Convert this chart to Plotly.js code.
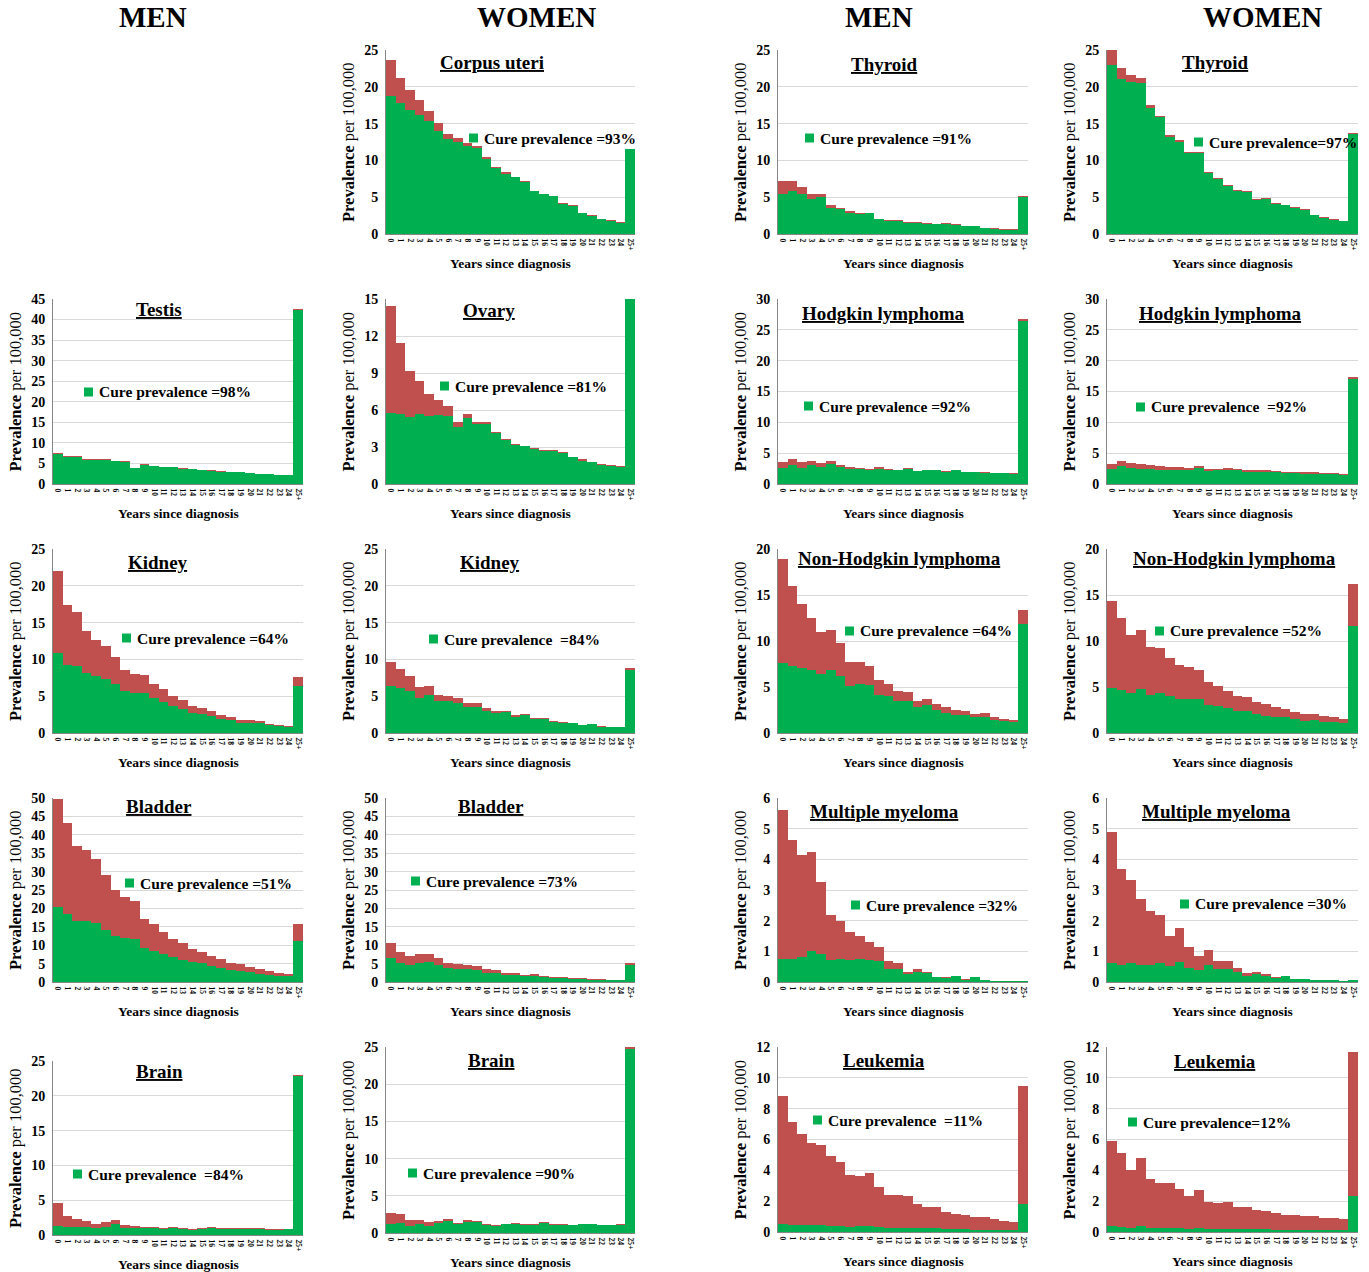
<!DOCTYPE html>
<html>
<head>
<meta charset="utf-8">
<script src="https://cdn.plot.ly/plotly-3.0.1.min.js"></script>
<style>html,body{margin:0;padding:0;background:#fff;}#chart{width:1369px;height:1272px;}</style>
</head>
<body>
<div id="chart"></div>
<script>
// ---------- Data (prevalence per 100,000) ----------
const years = ['0','1','2','3','4','5','6','7','8','9','10','11','12','13','14','15','16','17','18','19','20','21','22','23','24','25+'];
const columnHeaders = ['MEN','WOMEN','MEN','WOMEN'];

const corpusTotal = [23.7,21.2,19.6,18.2,16.7,15.1,13.6,13.1,12.3,12.0,10.4,9.1,8.4,7.8,7.2,5.9,5.5,5.2,4.2,3.9,2.9,2.6,2.1,1.9,1.6,11.6];
const corpusCure  = [18.8,17.8,16.9,16.2,15.3,14.0,12.9,12.5,11.9,11.7,10.2,9.0,8.2,7.7,7.1,5.8,5.4,5.1,4.1,3.8,2.9,2.5,2.0,1.8,1.5,11.5];

const thyroidMenTotal = [7.2,7.2,6.4,5.5,5.4,3.9,3.5,3.1,2.8,2.9,2.1,1.9,1.9,1.6,1.6,1.5,1.4,1.45,1.3,1.1,1.1,0.86,0.77,0.68,0.63,5.1];
const thyroidMenCure  = [5.5,5.8,5.4,4.8,5.0,3.6,3.35,2.9,2.7,2.8,2.0,1.8,1.8,1.55,1.55,1.4,1.3,1.35,1.2,1.05,1.05,0.8,0.7,0.6,0.55,5.0];

const thyroidWomenTotal = [25.0,22.5,21.6,21.2,17.5,16.1,13.4,12.8,11.1,11.1,8.4,7.65,6.65,6.0,5.85,4.7,4.9,4.15,4.0,3.7,3.35,2.65,2.3,2.0,1.8,13.7];
const thyroidWomenCure  = [22.95,21.05,20.6,20.5,17.15,15.85,13.2,12.55,10.95,10.95,8.25,7.5,6.55,5.9,5.75,4.6,4.8,4.1,3.95,3.6,3.2,2.6,2.2,1.95,1.7,13.6];

const testisTotal = [7.45,6.7,6.8,6.0,6.1,6.0,5.7,5.5,4.0,4.75,4.4,4.25,4.2,3.8,3.7,3.5,3.35,3.1,3.0,2.95,2.7,2.55,2.45,2.3,2.2,42.6];
const testisCure  = [7.3,6.5,6.65,5.9,5.95,5.9,5.6,5.4,3.9,4.6,4.3,4.15,4.05,3.7,3.6,3.4,3.25,3.0,2.9,2.85,2.6,2.45,2.35,2.2,2.1,42.3];

const ovaryTotal = [14.4,11.4,9.2,8.35,7.3,6.8,6.35,5.0,5.7,5.05,5.05,4.25,3.65,3.25,3.1,2.9,2.75,2.75,2.6,2.2,2.0,1.8,1.6,1.55,1.45,15.4];
const ovaryCure  = [5.75,5.65,5.4,5.7,5.55,5.6,5.55,4.6,5.35,4.85,4.9,4.15,3.6,3.2,3.05,2.85,2.7,2.7,2.5,2.15,1.9,1.75,1.55,1.5,1.4,15.3];

const hodgkinMenTotal = [3.55,4.1,3.55,3.75,3.4,3.75,3.15,2.8,2.6,2.45,2.8,2.45,2.35,2.55,2.1,2.35,2.3,2.05,2.25,2.0,2.0,1.9,1.85,1.85,1.75,26.75];
const hodgkinMenCure  = [2.55,3.1,2.6,3.05,2.8,3.25,2.8,2.45,2.4,2.3,2.5,2.35,2.3,2.5,2.05,2.3,2.2,2.0,2.2,1.95,1.95,1.85,1.8,1.8,1.7,26.5];

const hodgkinWomenTotal = [3.3,3.8,3.4,3.2,3.1,2.9,2.8,2.8,2.6,3.0,2.4,2.5,2.6,2.5,2.2,2.2,2.2,2.1,2.0,2.0,1.9,1.9,1.8,1.8,1.6,17.4];
const hodgkinWomenCure  = [2.5,2.9,2.6,2.5,2.4,2.3,2.3,2.3,2.2,2.6,2.1,2.2,2.3,2.2,1.9,2.0,2.0,1.9,1.8,1.8,1.7,1.7,1.6,1.6,1.4,17.1];

const kidneyMenTotal = [22.05,17.4,16.4,13.9,12.7,11.8,10.3,8.6,8.0,7.9,6.7,5.95,5.0,4.5,3.65,3.4,3.05,2.5,2.2,1.8,1.7,1.6,1.2,1.05,0.95,7.6];
const kidneyMenCure  = [10.85,9.25,9.1,8.2,7.7,7.35,6.7,5.65,5.4,5.4,4.7,4.25,3.65,3.25,2.75,2.55,2.25,1.85,1.7,1.35,1.35,1.35,1.05,0.9,0.8,6.35];

const kidneyWomenTotal = [9.7,8.7,7.7,6.2,6.45,5.15,5.05,4.7,4.1,4.05,3.4,3.0,3.05,2.45,2.6,2.05,2.05,1.65,1.45,1.4,1.15,1.25,0.9,0.85,0.85,8.9];
const kidneyWomenCure  = [6.4,6.05,5.65,4.75,5.2,4.3,4.3,4.05,3.5,3.55,3.0,2.75,2.8,2.2,2.45,1.95,1.9,1.55,1.35,1.3,1.1,1.2,0.8,0.75,0.75,8.6];

const nhlMenTotal = [18.95,16.0,14.0,12.55,11.0,11.25,9.8,7.75,7.75,7.3,5.75,5.3,4.6,4.45,3.5,3.7,3.1,2.8,2.45,2.4,2.1,2.15,1.7,1.55,1.4,13.35];
const nhlMenCure  = [7.6,7.3,7.1,6.85,6.4,6.8,6.25,5.1,5.35,5.2,4.15,4.0,3.45,3.45,2.8,3.0,2.45,2.2,1.95,2.0,1.75,1.75,1.45,1.3,1.25,11.9];

const nhlWomenTotal = [14.4,12.5,10.6,11.15,9.3,9.2,8.2,7.35,7.15,6.9,5.55,5.15,4.6,4.0,3.9,3.35,3.1,2.8,2.65,2.3,2.05,2.1,1.85,1.7,1.5,16.25];
const nhlWomenCure  = [4.9,4.65,4.35,4.8,4.1,4.3,4.0,3.7,3.7,3.75,3.05,2.95,2.7,2.4,2.4,2.05,1.9,1.75,1.75,1.5,1.3,1.4,1.2,1.15,1.1,11.6];

const bladderMenTotal = [49.8,43.1,36.9,35.9,33.4,29.0,25.0,23.2,22.1,17.0,15.7,13.6,11.75,10.5,9.1,8.2,7.2,6.3,5.2,4.8,4.0,3.55,3.0,2.55,2.3,15.85];
const bladderMenCure  = [20.4,18.5,16.6,16.7,16.1,14.2,12.5,11.9,11.65,9.2,8.55,7.65,6.85,6.0,5.55,5.1,4.35,3.9,3.2,3.0,2.65,2.3,2.0,1.75,1.55,11.1];

const bladderWomenTotal = [10.65,8.1,7.2,7.55,7.65,6.45,5.3,4.9,4.75,4.35,3.55,3.2,2.45,2.35,1.9,2.2,1.55,1.35,1.25,1.0,1.0,0.75,0.75,0.55,0.55,5.2];
const bladderWomenCure  = [6.45,5.1,4.65,5.1,5.35,4.55,3.75,3.55,3.55,3.35,2.55,2.45,2.0,1.8,1.55,1.75,1.3,1.2,1.0,0.8,0.85,0.65,0.65,0.45,0.45,4.55];

const myelomaMenTotal = [5.62,4.62,4.14,4.25,3.27,2.17,1.99,1.63,1.51,1.3,1.14,0.68,0.62,0.33,0.42,0.34,0.16,0.15,0.21,0.11,0.17,0.08,0.04,0.04,0.04,0.04];
const myelomaMenCure  = [0.75,0.75,0.82,1.01,0.91,0.71,0.76,0.73,0.74,0.71,0.68,0.43,0.43,0.27,0.34,0.29,0.15,0.12,0.18,0.08,0.16,0.07,0.03,0.03,0.03,0.03];

const myelomaWomenTotal = [4.89,3.68,3.34,2.71,2.33,2.2,1.49,1.77,1.14,0.86,1.05,0.68,0.67,0.47,0.29,0.34,0.25,0.16,0.21,0.11,0.11,0.08,0.07,0.08,0.04,0.08];
const myelomaWomenCure  = [0.62,0.55,0.61,0.55,0.55,0.63,0.52,0.65,0.46,0.39,0.57,0.42,0.42,0.32,0.21,0.25,0.21,0.13,0.18,0.1,0.09,0.07,0.05,0.05,0.03,0.05];

const brainMenTotal = [4.65,2.75,2.25,2.05,1.65,1.85,2.15,1.4,1.3,1.15,1.15,0.95,1.1,1.0,0.85,1.0,1.1,0.95,0.95,1.0,1.0,1.0,0.8,0.8,0.9,22.95];
const brainMenCure  = [1.35,1.1,1.15,1.15,1.0,1.1,1.55,1.05,1.0,1.0,1.0,0.85,0.95,0.9,0.75,0.9,1.0,0.85,0.85,0.9,0.9,0.9,0.7,0.7,0.8,22.85];

const brainWomenTotal = [2.7,2.5,1.7,1.8,1.45,1.6,1.9,1.35,1.75,1.55,1.15,1.05,1.2,1.3,1.2,1.15,1.45,1.2,1.2,1.1,1.2,1.2,1.1,1.1,1.2,25.3];
const brainWomenCure  = [1.15,1.3,1.0,1.15,1.0,1.3,1.55,1.15,1.5,1.45,1.1,1.0,1.15,1.2,1.1,1.1,1.35,1.1,1.1,1.05,1.15,1.15,1.05,1.05,1.1,24.7];

const leukemiaMenTotal = [8.83,7.12,6.36,5.79,5.64,4.93,4.54,3.73,3.62,3.8,2.91,2.37,2.37,2.34,1.82,1.65,1.63,1.32,1.19,1.13,0.98,0.98,0.82,0.74,0.67,9.5];
const leukemiaMenCure  = [0.5,0.46,0.43,0.43,0.43,0.39,0.39,0.33,0.37,0.39,0.3,0.26,0.28,0.28,0.24,0.24,0.24,0.17,0.17,0.17,0.15,0.15,0.13,0.11,0.11,1.8];

const leukemiaWomenTotal = [5.92,5.12,3.99,4.82,3.45,3.19,3.19,2.82,2.32,2.73,1.97,1.91,1.95,1.65,1.65,1.41,1.35,1.22,1.11,1.11,1.04,1.02,0.89,0.89,0.82,11.65];
const leukemiaWomenCure  = [0.37,0.35,0.28,0.37,0.28,0.26,0.28,0.26,0.2,0.28,0.2,0.2,0.22,0.2,0.22,0.17,0.17,0.15,0.15,0.15,0.15,0.15,0.13,0.13,0.13,2.34];

// ---------- Panel definitions (pixel layout) ----------
const W = 1369, H = 1272;
const COLX = [[53,303],[386,635],[778,1028],[1107,1358]];
const ROWY = [[50,234],[299,484],[549,733],[798,982],[1047,1233]];
const HEADER_X = [153,536,879,1262];

const panels = [
  {title:'Corpus uteri', total:corpusTotal, cure:corpusCure, col:1, row:0, ymax:25, dtick:5, tx:492, ty:62, lx:482, ly:138, label:'Cure prevalence =93%'},
  {title:'Thyroid', total:thyroidMenTotal, cure:thyroidMenCure, col:2, row:0, ymax:25, dtick:5, tx:884, ty:65, lx:818, ly:138, label:'Cure prevalence =91%'},
  {title:'Thyroid', total:thyroidWomenTotal, cure:thyroidWomenCure, col:3, row:0, ymax:25, dtick:5, tx:1215, ty:62, lx:1207, ly:142, label:'Cure prevalence=97%'},
  {title:'Testis', total:testisTotal, cure:testisCure, col:0, row:1, ymax:45, dtick:5, tx:159, ty:309, lx:97, ly:392, label:'Cure prevalence =98%'},
  {title:'Ovary', total:ovaryTotal, cure:ovaryCure, col:1, row:1, ymax:15, dtick:3, tx:489, ty:311, lx:453, ly:386, label:'Cure prevalence =81%'},
  {title:'Hodgkin lymphoma', total:hodgkinMenTotal, cure:hodgkinMenCure, col:2, row:1, ymax:30, dtick:5, tx:883, ty:313, lx:817, ly:406, label:'Cure prevalence =92%'},
  {title:'Hodgkin lymphoma', total:hodgkinWomenTotal, cure:hodgkinWomenCure, col:3, row:1, ymax:30, dtick:5, tx:1220, ty:313, lx:1149, ly:407, label:'Cure prevalence  =92%'},
  {title:'Kidney', total:kidneyMenTotal, cure:kidneyMenCure, col:0, row:2, ymax:25, dtick:5, tx:158, ty:562, lx:135, ly:638, label:'Cure prevalence =64%'},
  {title:'Kidney', total:kidneyWomenTotal, cure:kidneyWomenCure, col:1, row:2, ymax:25, dtick:5, tx:490, ty:562, lx:442, ly:639, label:'Cure prevalence  =84%'},
  {title:'Non-Hodgkin lymphoma', total:nhlMenTotal, cure:nhlMenCure, col:2, row:2, ymax:20, dtick:5, tx:900, ty:559, lx:858, ly:631, label:'Cure prevalence =64%'},
  {title:'Non-Hodgkin lymphoma', total:nhlWomenTotal, cure:nhlWomenCure, col:3, row:2, ymax:20, dtick:5, tx:1234, ty:559, lx:1168, ly:631, label:'Cure prevalence =52%'},
  {title:'Bladder', total:bladderMenTotal, cure:bladderMenCure, col:0, row:3, ymax:50, dtick:5, tx:159, ty:806, lx:138, ly:883, label:'Cure prevalence =51%'},
  {title:'Bladder', total:bladderWomenTotal, cure:bladderWomenCure, col:1, row:3, ymax:50, dtick:5, tx:491, ty:806, lx:424, ly:881, label:'Cure prevalence =73%'},
  {title:'Multiple myeloma', total:myelomaMenTotal, cure:myelomaMenCure, col:2, row:3, ymax:6, dtick:1, tx:884, ty:811, lx:864, ly:905, label:'Cure prevalence =32%'},
  {title:'Multiple myeloma', total:myelomaWomenTotal, cure:myelomaWomenCure, col:3, row:3, ymax:6, dtick:1, tx:1216, ty:811, lx:1193, ly:904, label:'Cure prevalence =30%'},
  {title:'Brain', total:brainMenTotal, cure:brainMenCure, col:0, row:4, ymax:25, dtick:5, tx:159, ty:1071, lx:86, ly:1174, label:'Cure prevalence  =84%', y0:1061, y1:1235},
  {title:'Brain', total:brainWomenTotal, cure:brainWomenCure, col:1, row:4, ymax:25, dtick:5, tx:491, ty:1060, lx:421, ly:1173, label:'Cure prevalence =90%', y0:1047, y1:1233},
  {title:'Leukemia', total:leukemiaMenTotal, cure:leukemiaMenCure, col:2, row:4, ymax:12, dtick:2, tx:884, ty:1060, lx:826, ly:1120, label:'Cure prevalence  =11%', y0:1047, y1:1232},
  {title:'Leukemia', total:leukemiaWomenTotal, cure:leukemiaWomenCure, col:3, row:4, ymax:12, dtick:2, tx:1215, ty:1061, lx:1141, ly:1122, label:'Cure prevalence=12%', y0:1047, y1:1232}
];

// ---------- Build figure ----------
const GREEN = '#00b050', RED = '#c0504d';
const SERIF = 'Liberation Serif, Times New Roman, serif';
const px = v => v / W;
const py = v => 1 - v / H;

const data = [];
const layout = {
  width: W, height: H,
  margin: {l:0, r:0, t:0, b:0},
  paper_bgcolor: '#ffffff', plot_bgcolor: 'rgba(0,0,0,0)',
  showlegend: false,
  barmode: 'overlay', bargap: 0,
  annotations: [], shapes: [],
  font: {family: SERIF, color: '#000'}
};

columnHeaders.forEach((h, i) => {
  layout.annotations.push({
    text: '<b>' + h + '</b>', xref: 'paper', yref: 'paper',
    x: px(HEADER_X[i]), y: py(17), xanchor: 'center', yanchor: 'middle',
    showarrow: false, font: {family: SERIF, size: 29, color: '#000'}
  });
});

panels.forEach((p, i) => {
  const k = i + 1;
  const xs = k === 1 ? '' : String(k);
  const [x0, x1] = COLX[p.col];
  const y0 = p.y0 !== undefined ? p.y0 : ROWY[p.row][0];
  const y1 = p.y1 !== undefined ? p.y1 : ROWY[p.row][1];

  data.push({
    type: 'bar', x: years, y: p.total, xaxis: 'x' + xs, yaxis: 'y' + xs,
    marker: {color: RED, opacity: 1, line: {width: 0}}, width: 1, hoverinfo: 'skip'
  });
  data.push({
    type: 'bar', x: years, y: p.cure, xaxis: 'x' + xs, yaxis: 'y' + xs,
    marker: {color: GREEN, opacity: 1, line: {width: 0}}, width: 1, hoverinfo: 'skip'
  });

  layout['xaxis' + xs] = {
    type: 'category', domain: [px(x0), px(x1)], anchor: 'y' + xs,
    range: [-0.5, years.length - 0.5],
    tickmode: 'linear', tick0: 0, dtick: 1,
    showgrid: false, zeroline: false, showline: true, linecolor: '#868686', linewidth: 1,
    ticks: '', tickangle: 90, ticklabelstandoff: 2,
    tickfont: {family: SERIF, size: 7.5, weight: 'bold', color: '#000'},
    fixedrange: true
  };
  layout['yaxis' + xs] = {
    domain: [py(y1), py(y0)], anchor: 'x' + xs,
    range: [0, p.ymax], dtick: p.dtick, tick0: 0,
    showgrid: true, gridcolor: '#d9d9d9', gridwidth: 1, zeroline: false,
    showline: true, linecolor: '#868686', linewidth: 1,
    ticks: '', ticklabelstandoff: 4,
    tickfont: {family: SERIF, size: 14, weight: 'bold', color: '#000'},
    fixedrange: true
  };

  // panel title (underlined)
  layout.annotations.push({
    text: '<b><u>' + p.title + '</u></b>', xref: 'paper', yref: 'paper',
    x: px(p.tx), y: py(p.ty), xanchor: 'center', yanchor: 'middle',
    showarrow: false, font: {family: SERIF, size: 19, color: '#000'}
  });
  // y title
  layout.annotations.push({
    text: '<b>Prevalence</b> per 100,000', xref: 'paper', yref: 'paper',
    x: px(x0 - 38), y: py((y0 + y1) / 2), xanchor: 'center', yanchor: 'middle',
    textangle: -90, showarrow: false, font: {family: SERIF, size: 16.5, color: '#000'}
  });
  // x title
  layout.annotations.push({
    text: '<b>Years since diagnosis</b>', xref: 'paper', yref: 'paper',
    x: px((x0 + x1) / 2), y: py(y1 + 29), xanchor: 'center', yanchor: 'middle',
    showarrow: false, font: {family: SERIF, size: 13.5, color: '#000'}
  });
  // legend: green square + label
  layout.shapes.push({
    type: 'rect', xref: 'paper', yref: 'paper',
    x0: px(p.lx - 13), x1: px(p.lx - 4), y0: py(p.ly + 4.5), y1: py(p.ly - 4.5),
    fillcolor: GREEN, line: {width: 0}
  });
  layout.annotations.push({
    text: '<b>' + p.label + '</b>', xref: 'paper', yref: 'paper',
    x: px(p.lx), y: py(p.ly), xanchor: 'left', yanchor: 'middle',
    showarrow: false, font: {family: SERIF, size: 15.5, color: '#000'}
  });
});

Plotly.newPlot('chart', data, layout, {staticPlot: true, displayModeBar: false});
</script>
</body>
</html>
